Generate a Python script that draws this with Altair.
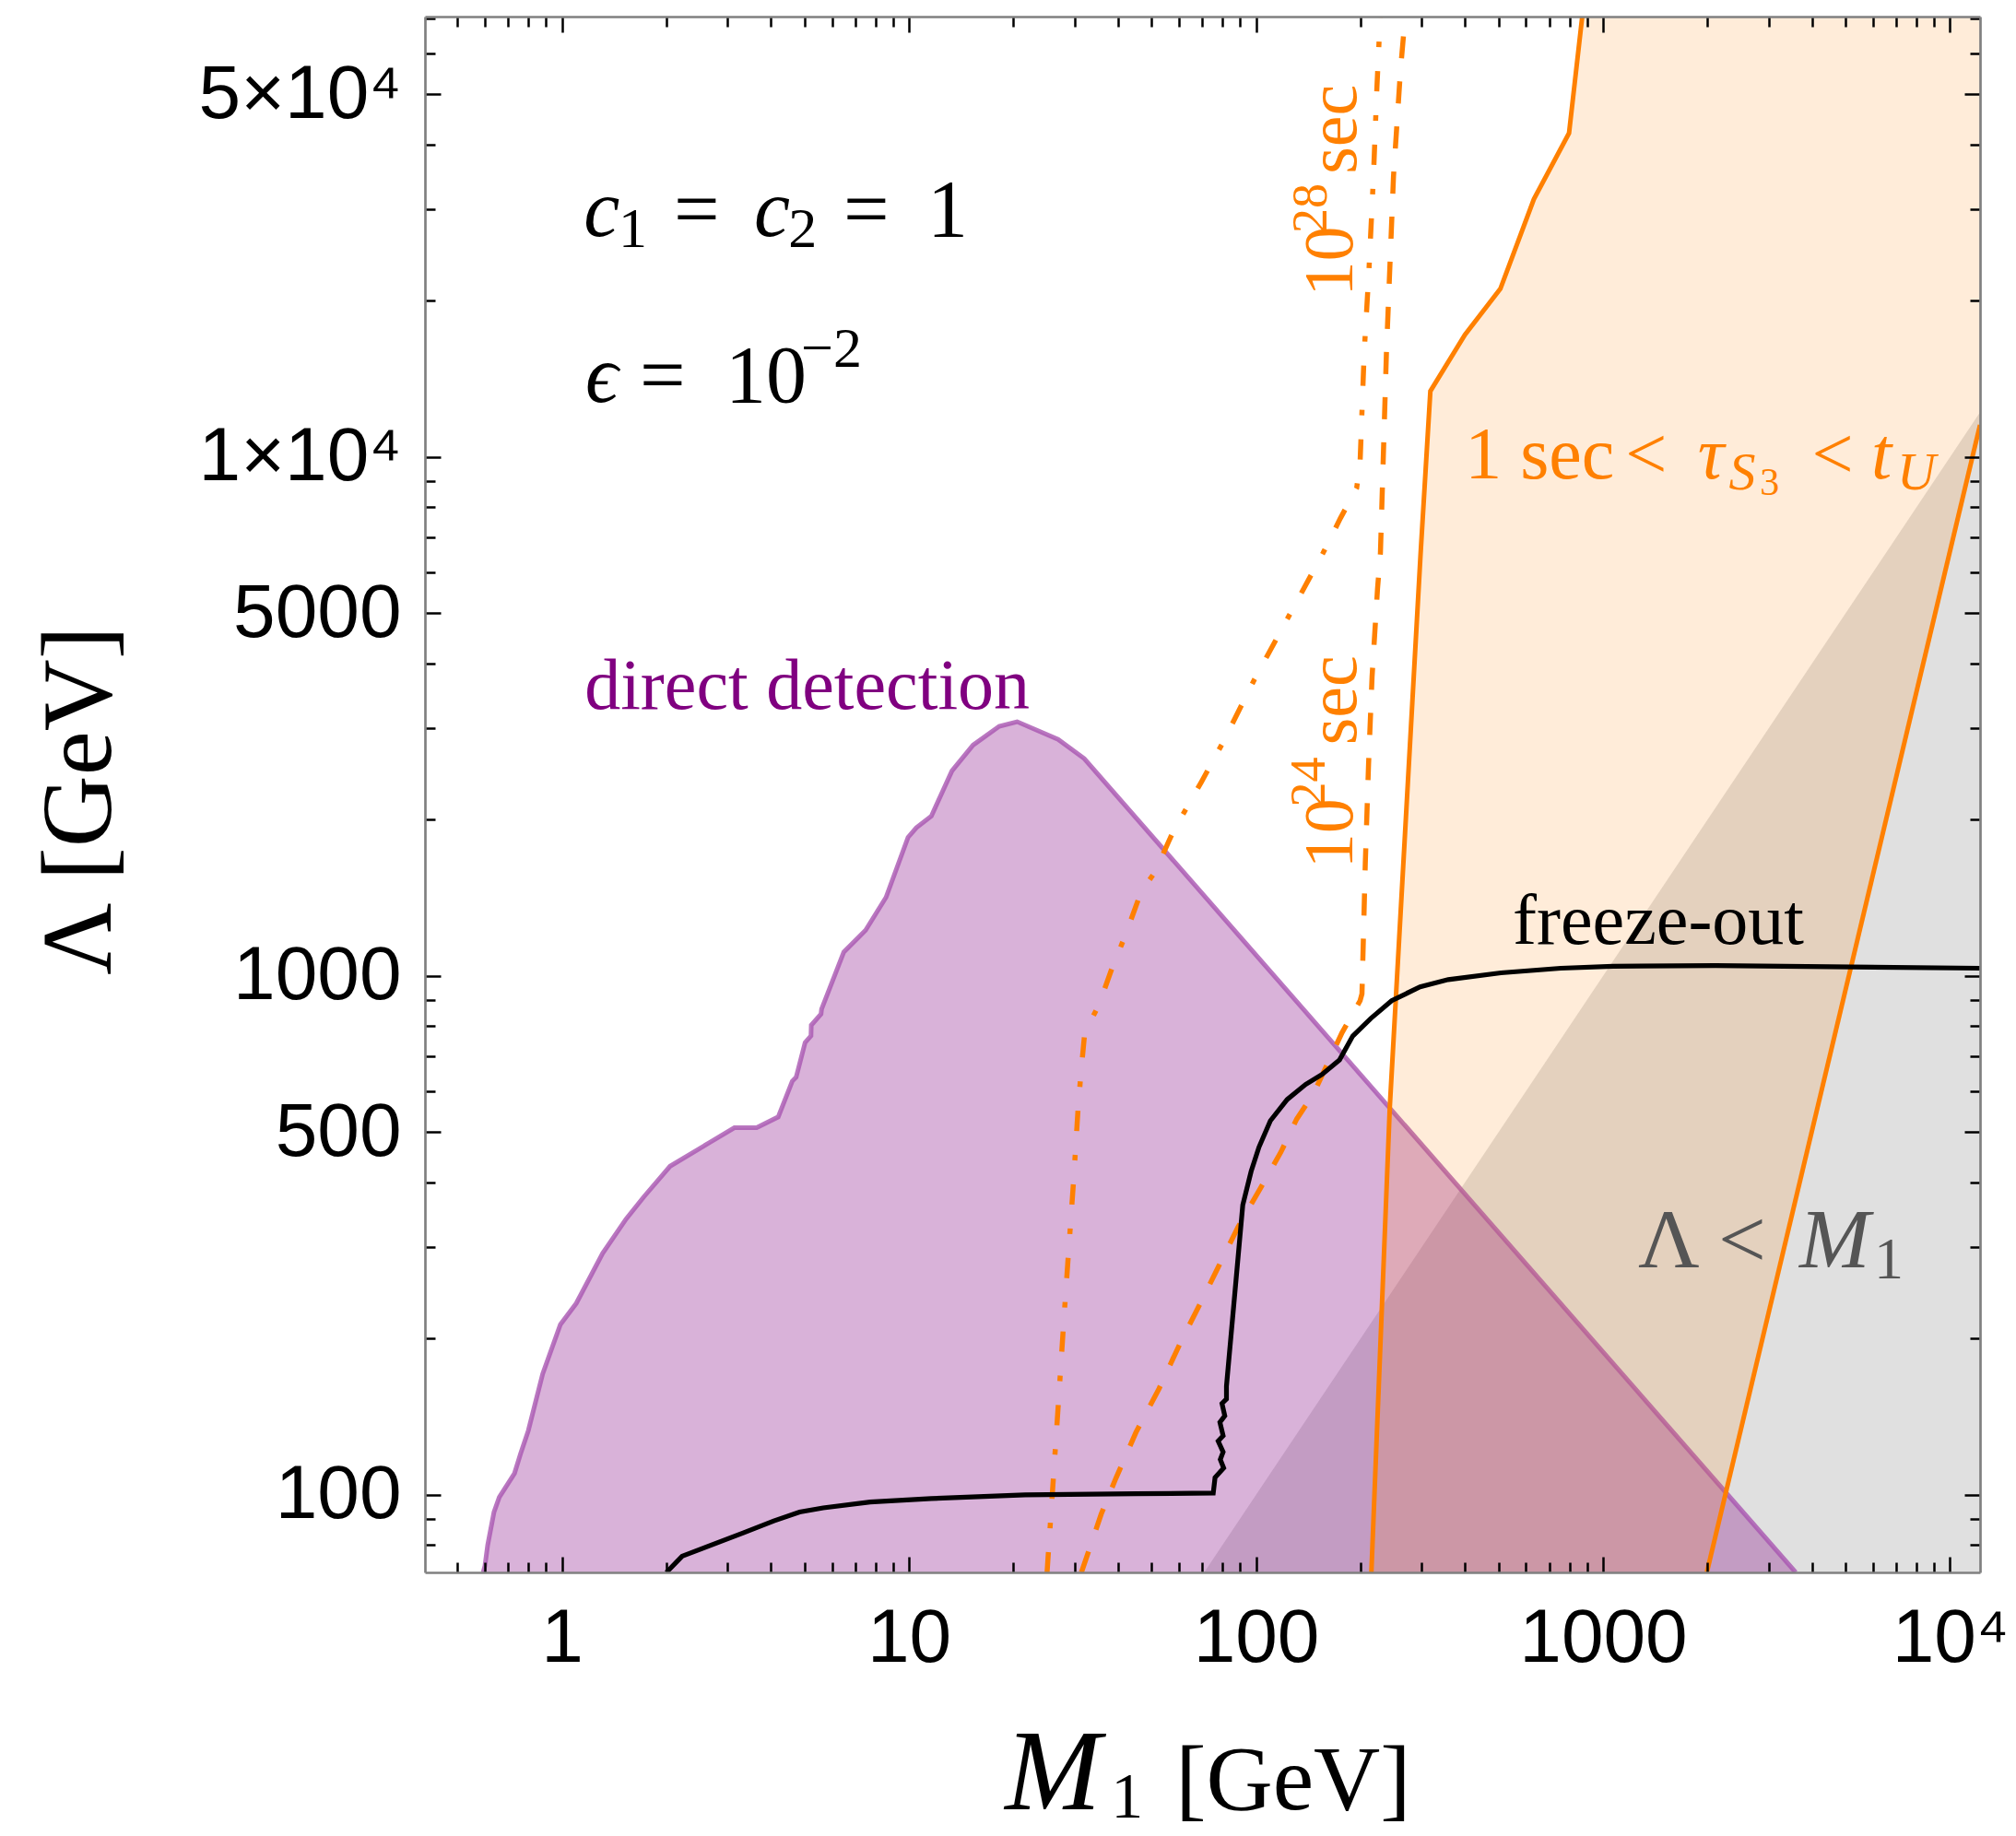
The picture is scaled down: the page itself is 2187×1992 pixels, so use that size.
import altair as alt
import pandas as pd

# ---------------- axis ranges and ticks ----------------
X_MIN, X_MAX = 0.403, 12200.0
Y_MIN, Y_MAX = 70.9, 70600.0

x_major = [1, 10, 100, 1000, 10000]
x_minor = [0.5, 0.6, 0.7, 0.8, 0.9, 2, 3, 4, 5, 6, 7, 8, 9,
           20, 30, 40, 50, 60, 70, 80, 90, 200, 300, 400, 500, 600, 700, 800, 900,
           2000, 3000, 4000, 5000, 6000, 7000, 8000, 9000]
y_major = [100, 500, 1000, 5000, 10000, 50000]
y_minor = [80, 90, 200, 300, 400, 600, 700, 800, 900, 2000, 3000, 4000,
           6000, 7000, 8000, 9000, 20000, 30000, 40000, 60000, 70000]

# ---------------- data ----------------
# Lambda < M1 region (below the diagonal)
diag_m = [70.9, 12200.0]
diag_lam = [70.9, 12200.0]

# direct detection excluded region (boundary)
dd_m = [0.593, 0.600, 0.611, 0.637, 0.660, 0.730, 0.760, 0.800, 0.880, 0.990,
        1.10, 1.31, 1.53, 1.72, 2.05, 2.67, 3.14, 3.64, 4.20, 4.61, 4.73, 5.02,
        5.22, 5.23, 5.58, 5.60, 6.49, 7.50, 8.59, 9.94, 10.5, 11.6, 13.3, 15.3,
        18.2, 20.5, 26.9, 32.0, 3590.0]
dd_lam = [70.9, 73, 80, 92.6, 99, 110, 120, 133, 171, 213,
          234, 292, 340, 375, 430, 478, 510, 510, 535, 627, 638, 744,
          767, 804, 845, 863, 1112, 1225, 1418, 1850, 1931, 2033, 2484, 2786,
          3027, 3090, 2858, 2624, 70.9]

# 1 sec < tau < t_U band: left (1 sec) and right (t_U) boundaries
tauL_m = [215, 243, 298, 318, 400, 506, 632, 798, 871]
tauL_lam = [70.9, 560, 6500, 13400, 17200, 21100, 31400, 42100, 70600]
tauR_m = [1991, 12200]
tauR_lam = [70.9, 11535]

# tau = 10^24 sec (dashed)
d24_m = [31.4, 35.8, 39.5, 45.1, 52.5, 61.1, 69.8, 77.9, 88.7, 103, 118, 131, 147,
         177, 199.5, 202, 206.5, 211, 216, 224, 228.3, 237.6, 249, 260.8, 269]
d24_lam = [70.9, 91.8, 107.8, 132, 160, 199, 237, 275, 328, 390, 458, 530, 596,
           778, 896, 924, 1648, 2553, 3776, 5585, 6531, 15890, 34750, 55600, 70600]

# tau = 10^28 sec (dot-dashed)
d28_m = [25.0, 26.1, 27.0, 27.9, 28.8, 29.8, 30.7, 31.3, 32.1, 35.3, 38.7, 42.0,
         46.7, 51.2, 57.7, 69.5, 80.0, 98.8, 125, 156, 175, 195, 199.5, 205,
         211.5, 218, 223, 228]
d28_lam = [70.9, 109, 153, 214, 291, 402, 553, 650, 778, 881, 1047, 1196,
           1455, 1587, 1898, 2361, 2805, 3720, 4970, 6530, 7620, 8710, 9790, 15900,
           22800, 34750, 51400, 70600]

# freeze-out curve
fo_m = [2.0, 2.22, 3.33, 4.08, 4.84, 5.66, 7.73, 11.6, 21.6, 45.0,
        75.3, 76.2, 80.7, 78.9, 80.4, 77.8, 80.4, 78.7, 81.3, 79.8,
        82.2, 82.2, 91.6, 96.8, 102, 110, 123, 139, 155, 174,
        190, 214, 246, 297, 358, 508, 755, 1069, 2113, 12200]
fo_lam = [70.9, 76.2, 84.5, 89.1, 92.7, 94.4, 96.9, 98.4, 100, 100.5,
          100.8, 108, 112.7, 117, 121, 127, 130, 138, 142, 150,
          153, 162, 362, 420, 468, 526, 578, 618, 646, 689,
          766, 828, 896, 953, 984, 1014, 1035, 1044, 1047, 1035]

# text annotations (pieces)
txt_text = ["c", "1", "=", "c", "2", "=", "1",
            "\u03f5", "=", "10", "\u22122",
            "direct detection", "freeze-out",
            "1 sec", "<", "\u03c4", "S", "3", "<", "t", "U",
            "\u039b", "<", "M", "1",
            "10", "28", "sec", "10", "24", "sec",
            "M", "1", "[GeV]"]
txt_m = [1.155, 1.456, 2.102, 3.58, 4.49, 6.47, 11.3,
         1.169, 1.676, 2.96, 4.89,
         1.162, 549,
         400, 1159, 1875, 2305, 2833, 3993, 5931, 7035,
         1262, 2149, 3680, 6040,
         189.7, 159.7, 194.0, 189.7, 157.9, 194.7,
         18.9, 38.2, 58.6]
txt_lam = [26700, 25400, 26700, 26700, 25400, 26700, 26700,
           12800, 12800, 12800, 14940,
           3274, 1153,
           9080, 9080, 9080, 8670, 8440, 9080, 9080, 8670,
           275, 275, 275, 261,
           20400, 27000, 35100, 1611, 2118, 2786,
           24.8, 23.9, 24.8]
txt_size = [88, 62, 88, 88, 62, 88, 88,
            88, 88, 88, 62,
            78, 78,
            80, 80, 80, 58, 42, 80, 80, 58,
            92, 92, 92, 64,
            76, 54, 76, 76, 54, 76,
            125, 70, 100]
BLK, ORG, PUR, GRY = "#000000", "#FF8000", "#800080", "#555555"
txt_color = [BLK] * 11 + [PUR, BLK] + [ORG] * 8 + [GRY] * 4 + [ORG] * 6 + [BLK] * 3
txt_style = ["it", "rm", "rm", "it", "rm", "rm", "rm",
             "it", "rm", "rm", "rm",
             "rm", "rm",
             "rm", "rm", "it", "it", "rm", "rm", "it", "it",
             "rm", "rm", "it", "rm",
             "rot", "rot", "rot", "rot", "rot", "rot",
             "it", "rm", "rm"]

# ---------------- tables ----------------
gray_df = pd.DataFrame({"m": diag_m, "lam": diag_lam, "base": [Y_MIN] * len(diag_m)})
dd_df = pd.DataFrame({"m": dd_m, "lam": dd_lam, "base": [Y_MIN] * len(dd_m),
                      "i": list(range(len(dd_m)))})
band_df = pd.DataFrame({"m": tauL_m + tauR_m,
                        "hi": tauL_lam + [Y_MAX] * len(tauR_m),
                        "lo": [Y_MIN] * len(tauL_m) + tauR_lam})
tauL_df = pd.DataFrame({"m": tauL_m, "lam": tauL_lam})
tauR_df = pd.DataFrame({"m": tauR_m, "lam": tauR_lam})
d24_df = pd.DataFrame({"m": d24_m, "lam": d24_lam})
d28_df = pd.DataFrame({"m": d28_m, "lam": d28_lam})
fo_df = pd.DataFrame({"m": fo_m, "lam": fo_lam, "i": list(range(len(fo_m)))})
txt_df = pd.DataFrame({"m": txt_m, "lam": txt_lam, "text": txt_text,
                       "size": txt_size, "color": txt_color, "style": txt_style})

xscale = alt.Scale(type="log", domain=[X_MIN, X_MAX], nice=False)
yscale = alt.Scale(type="log", domain=[Y_MIN, Y_MAX], nice=False)


def ex(field="m", axis=None):
    return alt.X(f"{field}:Q", scale=xscale, axis=axis)


def ey(field="lam", axis=None):
    return alt.Y(f"{field}:Q", scale=yscale, axis=axis)


# ---------------- marks ----------------
gray = alt.Chart(gray_df).mark_area(color="#E0E0E0", clip=True).encode(
    x=ex(), y=ey(), y2=alt.Y2("base:Q"))

dd_area = alt.Chart(dd_df).mark_area(color="#800080", opacity=0.3, clip=True).encode(
    x=ex(), y=ey(), y2=alt.Y2("base:Q"))
dd_line = alt.Chart(dd_df).mark_line(color="#A855B0", opacity=0.8, strokeWidth=5,
                                     clip=True).encode(
    x=ex(), y=ey(), order=alt.Order("i:Q"))

band = alt.Chart(band_df).mark_area(color="#FF8000", opacity=0.15, clip=True).encode(
    x=ex(), y=ey("hi"), y2=alt.Y2("lo:Q"))
tauL = alt.Chart(tauL_df).mark_line(color=ORG, strokeWidth=5, clip=True).encode(
    x=ex(), y=ey())
tauR = alt.Chart(tauR_df).mark_line(color=ORG, strokeWidth=5, clip=True).encode(
    x=ex(), y=ey())
d24 = alt.Chart(d24_df).mark_line(color=ORG, strokeWidth=5.5, strokeDash=[24, 25],
                                  clip=True).encode(x=ex(), y=ey())
d28 = alt.Chart(d28_df).mark_line(color=ORG, strokeWidth=5.5, strokeDash=[22, 26, 6, 26],
                                  clip=True).encode(x=ex(), y=ey())
fo = alt.Chart(fo_df).mark_line(color=BLK, strokeWidth=5.2, clip=True).encode(
    x=ex(), y=ey(), order=alt.Order("i:Q"))


def text_layer(style, **kw):
    return alt.Chart(txt_df).transform_filter(alt.datum.style == style).mark_text(
        align="left", baseline="alphabetic", font="Liberation Serif, DejaVu Serif", **kw
    ).encode(x=ex(), y=ey(), text="text:N",
             size=alt.Size("size:Q", scale=None),
             color=alt.Color("color:N", scale=None))


t_rm = text_layer("rm")
t_it = text_layer("it", fontStyle="italic")
t_rot = text_layer("rot", angle=270)

# ---------------- axes (frame ticks pointing inward) ----------------
dummy = pd.DataFrame({"m": [1.0], "lam": [100.0]})


def axis_layer(xaxis, yaxis):
    return alt.Chart(dummy).mark_point(opacity=0).encode(x=ex("m", xaxis), y=ey("lam", yaxis))


def tick_axis(orient, values, size):
    return alt.Axis(orient=orient, values=values, offset=-size, tickSize=size,
                    tickWidth=2.5, tickColor="black", domain=False, labels=False,
                    grid=False, title=None, zindex=1)


def frame_axis(orient):
    return alt.Axis(orient=orient, domain=True, domainColor="#808080", domainWidth=2.7,
                    ticks=False, tickSize=0, labels=False, grid=False, title=None,
                    zindex=2, values=[1])


x_label_axis = alt.Axis(
    orient="bottom", values=x_major,
    labelExpr="datum.value == 10000 ? '10\u2074' : toString(datum.value)",
    labelFont="Liberation Sans", labelFontSize=82, labelColor="black", labelLimit=0,
    labelPadding=96, labelBaseline="alphabetic", labelFlush=False, labelOverlap=False,
    domain=True, domainColor="#808080", domainWidth=2.7, ticks=False, tickSize=0,
    grid=False, title=None, zindex=2)

y_label_axis = alt.Axis(
    orient="left", values=y_major,
    labelExpr="datum.value == 10000 ? '1\u00d710\u2074' : datum.value == 50000 ? '5\u00d710\u2074' : toString(datum.value)",
    labelFont="Liberation Sans", labelFontSize=82, labelColor="black", labelLimit=0,
    labelPadding=26, labelAlign="right", labelBaseline="middle",
    labelFlush=False, labelOverlap=False,
    domain=True, domainColor="#808080", domainWidth=2.7, ticks=False, tickSize=0,
    grid=False, zindex=2,
    title="\u039b [GeV]", titleFont="Liberation Serif", titleFontSize=108,
    titleFontWeight="normal", titleColor="black", titleAngle=270, titleLimit=0,
    titleAlign="center", titleBaseline="alphabetic", titleX=-342, titleY=850)

ax_main = axis_layer(x_label_axis, y_label_axis)
ax_bmaj = axis_layer(tick_axis("bottom", x_major, 17), tick_axis("left", y_major, 17))
ax_bmin = axis_layer(tick_axis("bottom", x_minor, 11), tick_axis("left", y_minor, 11))
ax_tmaj = axis_layer(tick_axis("top", x_major, 17), tick_axis("right", y_major, 17))
ax_tmin = axis_layer(tick_axis("top", x_minor, 11), tick_axis("right", y_minor, 11))
ax_frame = axis_layer(frame_axis("top"), frame_axis("right"))

chart = alt.layer(
    gray, dd_area, dd_line, band, tauL, tauR, d24, d28, fo,
    t_rm, t_it, t_rot,
    ax_bmaj, ax_bmin, ax_tmaj, ax_tmin, ax_frame, ax_main,
).resolve_axis(x="independent", y="independent").properties(
    width=1687, height=1688,
    padding={"left": 461, "top": 18, "right": 39, "bottom": 286},
    autosize=alt.AutoSizeParams(type="none"),
    background="white",
).configure_view(strokeWidth=0)

chart.save("out.html", embed_options={"renderer": "svg", "actions": False})
